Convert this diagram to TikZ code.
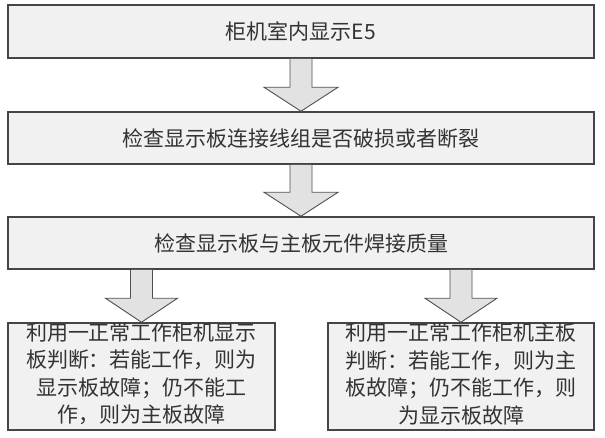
\documentclass[tikz,border=0pt]{standalone}
\usepackage{fontspec}
\newfontfamily\cjk{Noto Sans CJK SC}
\usetikzlibrary{calc}
\definecolor{boxfill}{HTML}{F0F1F0}
\definecolor{boxline}{HTML}{454545}
\definecolor{arrfill}{HTML}{E2E2E2}
\definecolor{arrline}{HTML}{505050}
\definecolor{txt}{HTML}{333333}
\tikzset{
  box/.style={draw=boxline, line width=1.5pt, fill=boxfill, rectangle, inner sep=0pt},
  boxtext/.style={text=txt, font=\cjk\fontsize{21}{27.5}\selectfont, align=center, inner sep=0pt},
  fatarrow/.style={draw=arrline, line width=0.9pt, fill=arrfill, line join=miter}
}
\newcommand{\blockarrow}[3]{% from (#1) to (#2), head half-width #3
  \draw[fatarrow] let \p1=(#1), \p2=(#2) in
    (\x1-11pt,\y1) -- (\x1-11pt,\y2+24pt) -- (\x1-#3,\y2+24pt) -- (\x2,\y2)
    -- (\x1+#3,\y2+24pt) -- (\x1+11pt,\y2+24pt) -- (\x1+11pt,\y1);
}
\begin{document}
\begin{tikzpicture}[x=1pt,y=1pt]
\useasboundingbox (0,0) rectangle (605,-437);
\node[box, minimum width=586pt, minimum height=53pt] (b1) at (301,-31.5) {};
\node[boxtext] (t1) at (b1) {柜机室内显示E5};
\node[box, minimum width=586pt, minimum height=52pt] (b2) at (301,-138) {};
\node[boxtext] (t2) at (b2) {检查显示板连接线组是否破损或者断裂};
\node[box, minimum width=586pt, minimum height=52pt] (b3) at (301,-243) {};
\node[boxtext] (t3) at (b3) {检查显示板与主板元件焊接质量};
\node[box, minimum width=267pt, minimum height=107pt] (b4) at (141.5,-376.5) {};
\node[boxtext] (t4) at ($(b4.center)+(0,2.5)$) {利用一正常工作柜机显示\\板判断：若能工作，则为\\显示板故障；仍不能工\\作，则为主板故障};
\node[box, minimum width=266pt, minimum height=107pt] (b5) at (461,-376.5) {};
\node[boxtext] (t5) at ($(b5.center)+(0,2.5)$) {利用一正常工作柜机主板\\判断：若能工作，则为主\\板故障；仍不能工作，则\\为显示板故障};
\blockarrow{b1.south}{b2.north}{37pt}
\blockarrow{b2.south}{b3.north}{37pt}
\blockarrow{b3.south -| b4.north}{b4.north}{36pt}
\blockarrow{b3.south -| b5.north}{b5.north}{36pt}
\end{tikzpicture}
\end{document}
